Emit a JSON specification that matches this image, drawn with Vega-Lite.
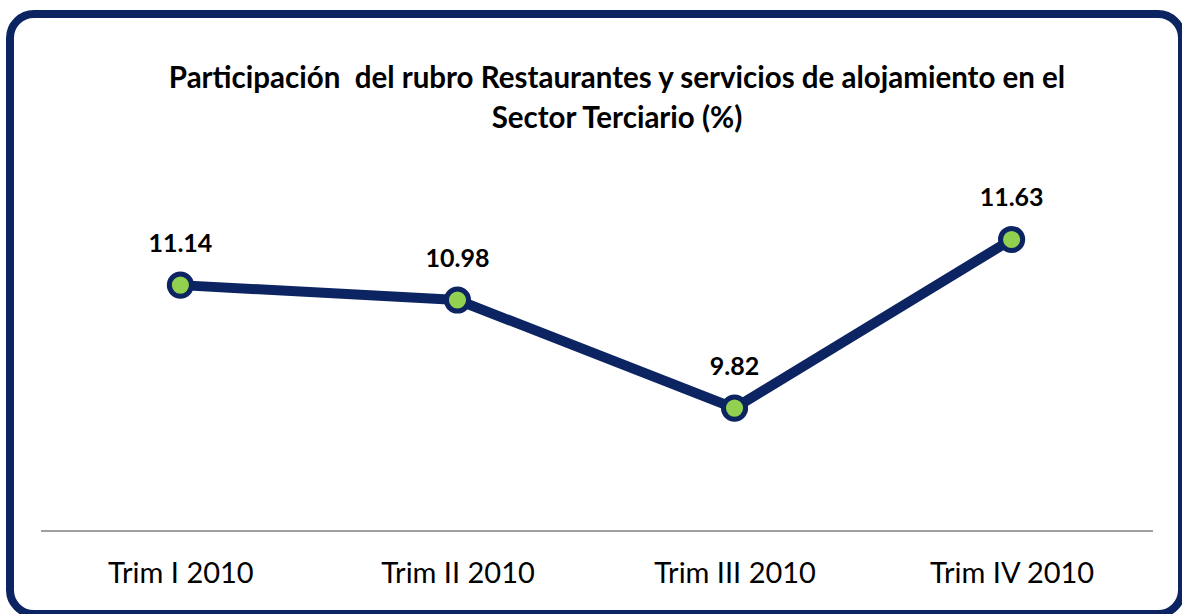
{
  "$schema": "https://vega.github.io/schema/vega-lite/v6.json",
  "width": 1172,
  "height": 600,
  "autosize": {"type": "none"},
  "padding": {"left": 10, "top": 14, "right": 0, "bottom": 0},
  "background": "white",
  "config": {
    "view": {"stroke": "#0c2461", "strokeWidth": 8, "cornerRadius": 24, "fill": "white"},
    "font": "Lato"
  },
  "title": {
    "text": ["Participación\u00a0 del rubro Restaurantes y servicios de alojamiento en el", "Sector Terciario (%)"],
    "frame": "group",
    "anchor": "middle",
    "orient": "top",
    "offset": -120,
    "baseline": "top",
    "dx": 21,
    "font": "Lato",
    "fontSize": 29.5,
    "fontWeight": "bold",
    "lineHeight": 40,
    "color": "#000000"
  },
  "data": {
    "values": [
      {"trimestre": "Trim I 2010", "valor": 11.14},
      {"trimestre": "Trim II 2010", "valor": 10.98},
      {"trimestre": "Trim III 2010", "valor": 9.82},
      {"trimestre": "Trim IV 2010", "valor": 11.63}
    ]
  },
  "encoding": {
    "x": {
      "field": "trimestre",
      "type": "ordinal",
      "sort": null,
      "scale": {"type": "point", "domain": ["Trim I 2010", "Trim II 2010", "Trim III 2010", "Trim IV 2010"], "padding": 0.615},
      "axis": {
        "title": null,
        "orient": "bottom",
        "offset": -83,
        "domain": false,
        "ticks": false,
        "grid": false,
        "labelFont": "Lato",
        "labelFontSize": 29,
        "labelColor": "#000000",
        "labelPadding": 28,
        "labelAngle": 0
      }
    },
    "y": {
      "field": "valor",
      "type": "quantitative",
      "scale": {"domain": [7.61, 14.05], "nice": false, "zero": false},
      "axis": null
    }
  },
  "layer": [
    {
      "mark": {"type": "rule", "color": "#a0a0a0", "strokeWidth": 2, "xOffset": -139, "x2Offset": 141},
      "encoding": {
        "x": {"datum": "Trim I 2010"},
        "x2": {"datum": "Trim IV 2010"},
        "y": {"datum": 8.5}
      }
    },
    {
      "mark": {"type": "line", "color": "#0c2461", "strokeWidth": 10}
    },
    {
      "mark": {"type": "point", "filled": true, "fill": "#92d050", "stroke": "#0c2461", "strokeWidth": 5, "size": 491, "opacity": 1}
    },
    {
      "mark": {"type": "text", "dy": -41, "baseline": "middle", "align": "center", "font": "Lato", "fontSize": 25, "fontWeight": "bold", "color": "#000000"},
      "encoding": {
        "text": {"field": "valor", "type": "quantitative", "format": ".2f"}
      }
    }
  ]
}
